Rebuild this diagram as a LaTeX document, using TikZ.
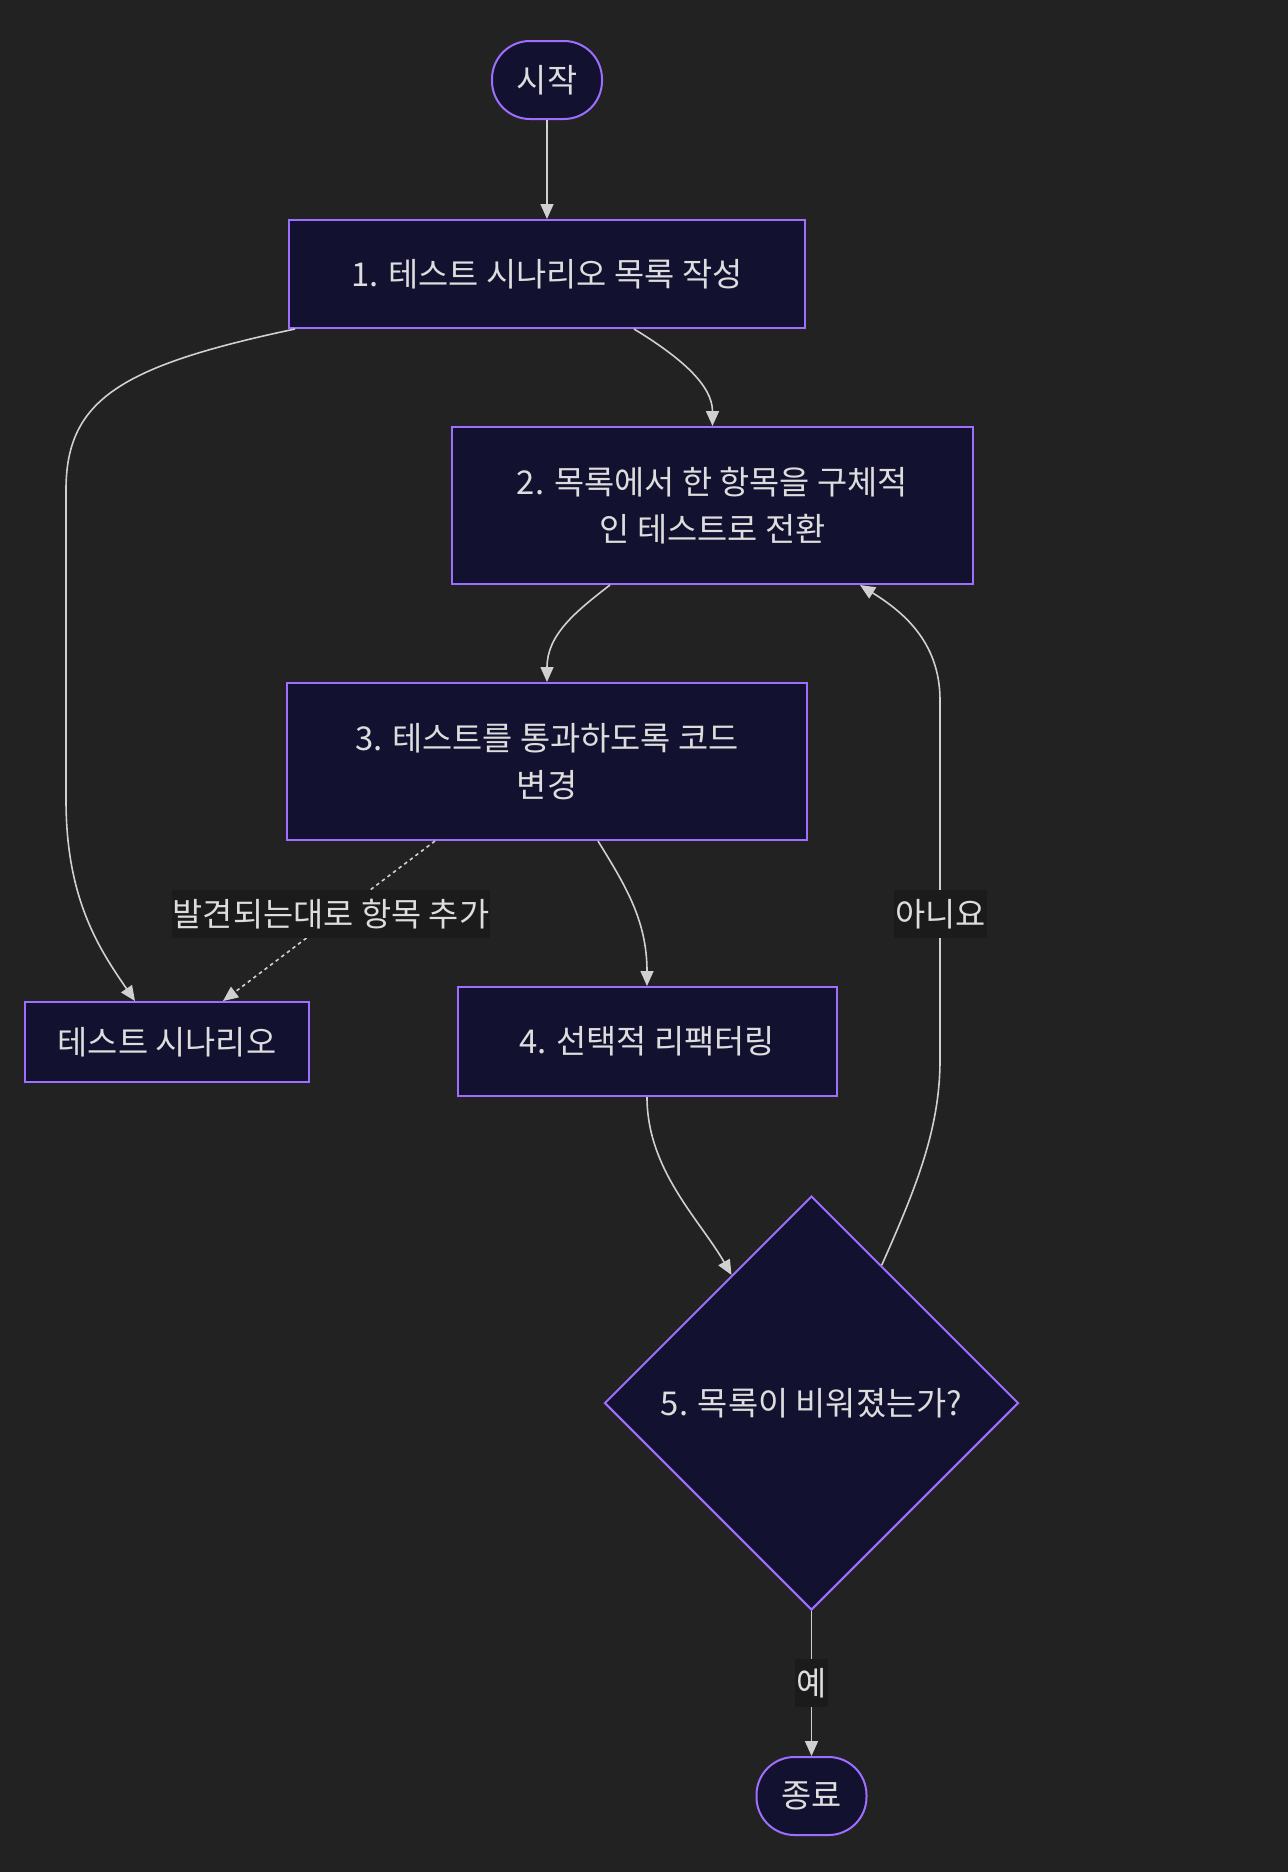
\documentclass[tikz,border=0pt]{standalone}
\usepackage{fontspec}
\setmainfont{Noto Sans CJK KR}
\usetikzlibrary{shapes.geometric,arrows.meta}
\definecolor{bgc}{HTML}{222222}
\definecolor{nodefill}{HTML}{121230}
\definecolor{bord}{HTML}{9E6EFF}
\definecolor{txt}{HTML}{DDDDDD}
\definecolor{edgec}{HTML}{D0D0D0}
\definecolor{lblbg}{HTML}{1B1B1B}
\begin{document}
\begin{tikzpicture}[x=1pt,y=-1pt,
  box/.style={draw=bord, fill=nodefill, line width=2pt, text=txt,
    font=\fontsize{32.8}{47}\selectfont, align=center, inner sep=0pt},
  term/.style={box, rounded corners=38pt, minimum width=110pt, minimum height=78pt},
  dec/.style={box, diamond, minimum width=414pt, minimum height=414pt, aspect=1},
  edge/.style={draw=edgec, line width=1.6pt, -{Triangle[length=15pt,width=13pt]}},
  dotedge/.style={edge, dash pattern=on 3.5pt off 3.5pt},
  lbl/.style={fill=lblbg, text=txt, font=\fontsize{32.8}{47}\selectfont,
    inner xsep=1pt, inner ysep=0pt, minimum height=48pt}]
\useasboundingbox (0,0) rectangle (1288,1872);
\fill[bgc] (0,0) rectangle (1288,1872);

\node[term] (start) at (547,80) {시작};
\node[box, minimum width=516pt, minimum height=108pt] (b1) at (547,274) {1. 테스트 시나리오 목록 작성};
\node[box, minimum width=521pt, minimum height=157pt] (b2) at (712.5,505.5) {2. 목록에서 한 항목을 구체적\\인 테스트로 전환};
\node[box, minimum width=520pt, minimum height=157pt] (b3) at (547,761.5) {3. 테스트를 통과하도록 코드\\변경};
\node[box, minimum width=284pt, minimum height=80pt] (ts) at (167,1042) {테스트 시나리오};
\node[box, minimum width=379pt, minimum height=109pt] (b4) at (647,1041.5) {4. 선택적 리팩터링};
\node[dec] (dia) at (811.5,1403) {5. 목록이 비워졌는가?};
\node[term] (end) at (811.5,1796) {종료};

\draw[edge] (start.south) -- (b1.north);
\draw[edge] ([xshift=87pt]b1.south) .. controls (680,357) and (712.5,385) .. (b2.north);
\draw[edge] ([xshift=7pt]b1.south west) .. controls (120,366) and (66,400) .. (66,490)
  -- (66,800) .. controls (66,900) and (100,950) .. ([xshift=-32pt]ts.north);
\draw[edge] ([xshift=-102.5pt]b2.south) .. controls (575,612) and (547,635) .. (b3.north);
\draw[edge] ([xshift=51pt]b3.south) .. controls (625,885) and (647,920) .. (b4.north);
\draw[dotedge] ([xshift=-112pt]b3.south) -- ([xshift=56pt]ts.north);
\draw[edge] (b4.south) .. controls (647,1170) and (700,1220) .. (dia.122);
\draw[edge] (dia.63) .. controls (915,1190) and (940,1130) .. (940,1060)
  -- (940,700) .. controls (940,640) and (900,610) .. ([xshift=147.5pt]b2.south);
\draw[edge] (dia.south) -- (end.north);

\node[lbl] (l1) at (331,914) {발견되는대로 항목 추가};
\node[lbl] (l2) at (940.5,914) {아니요};
\node[lbl] (l3) at (811.5,1683) {예};
\end{tikzpicture}
\end{document}
